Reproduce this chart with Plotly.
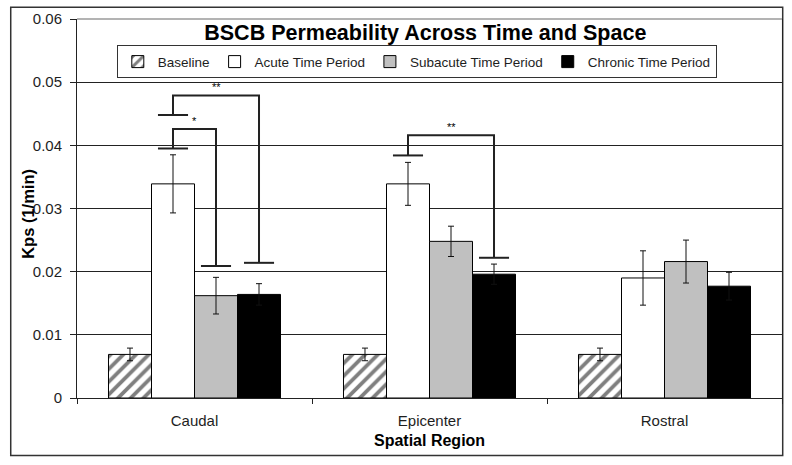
import plotly.graph_objects as go

# ---------------- data ----------------
regions = ["Caudal", "Epicenter", "Rostral"]
series_names = ["Baseline", "Acute Time Period", "Subacute Time Period", "Chronic Time Period"]
baseline = [0.0069, 0.0069, 0.0069]
baseline_err = [0.0010, 0.0010, 0.0010]
acute = [0.0339, 0.0339, 0.0190]
acute_err = [0.0046, 0.0034, 0.0043]
subacute = [0.0162, 0.0248, 0.0216]
subacute_err = [0.0029, 0.0024, 0.0034]
chronic = [0.0164, 0.0196, 0.0177]
chronic_err = [0.0017, 0.0016, 0.0022]

# significance brackets
bracket_region = [0, 0, 1]          # index into regions
bracket_from = [1, 1, 1]            # series index (left end)
bracket_to = [2, 3, 3]              # series index (right end)
bracket_top = [0.0426, 0.0479, 0.0416]
bracket_left_end = [0.0395, 0.0448, 0.0384]
bracket_right_end = [0.0209, 0.0214, 0.0222]
bracket_label = ["*", "**", "**"]

y_ticks = [0, 0.01, 0.02, 0.03, 0.04, 0.05, 0.06]
y_ticktext = ["0", "0.01", "0.02", "0.03", "0.04", "0.05", "0.06"]
x_title = "Spatial Region"
y_title = "Kps (1/min)"
chart_title = "BSCB Permeability Across Time and Space"

# ---------------- styling ----------------
FONT = "Arial, Liberation Sans, sans-serif"
TXT = "#1e1e1e"
BARGAP = 0.268
values = [baseline, acute, subacute, chronic]
errors = [baseline_err, acute_err, subacute_err, chronic_err]
fills = ["white", "white", "#c0c0c0", "black"]

fig = go.Figure()
for i, name in enumerate(series_names):
    marker = dict(color=fills[i], line=dict(color="black", width=1))
    if i == 0:
        marker["pattern"] = dict(shape="/", fgcolor="black", bgcolor="white",
                                 size=9, solidity=0.42, fillmode="overlay")
    fig.add_trace(go.Bar(
        name=name, x=regions, y=values[i], marker=marker,
        error_y=dict(type="data", array=errors[i], visible=True,
                     color="#111", thickness=1, width=3),
    ))

# brackets drawn in data coordinates derived from bar layout
w = (1 - BARGAP) / len(series_names)
cap_half = 0.064
def bar_center(region_idx, series_idx):
    return region_idx + (series_idx - (len(series_names) - 1) / 2) * w

shapes = []
annotations = []
line_style = dict(color="#222", width=2)
for k in range(len(bracket_label)):
    xl = bar_center(bracket_region[k], bracket_from[k])
    xr = bar_center(bracket_region[k], bracket_to[k])
    top = bracket_top[k]
    yl = bracket_left_end[k]
    yr = bracket_right_end[k]
    shapes.append(dict(type="path", xref="x", yref="y",
                       path=f"M {xl},{yl} L {xl},{top} L {xr},{top} L {xr},{yr}",
                       line=line_style))
    shapes.append(dict(type="line", xref="x", yref="y", x0=xl - cap_half, x1=xl + cap_half,
                       y0=yl, y1=yl, line=line_style))
    shapes.append(dict(type="line", xref="x", yref="y", x0=xr - cap_half, x1=xr + cap_half,
                       y0=yr, y1=yr, line=line_style))
    annotations.append(dict(x=(xl + xr) / 2, y=top, xref="x", yref="y",
                            text=bracket_label[k], showarrow=False, yanchor="bottom",
                            font=dict(family=FONT, size=11, color="black")))

# axis titles
annotations.append(dict(text=f"<b>{x_title}</b>", xref="paper", yref="paper",
                        x=0.5, y=-0.1126, xanchor="center", yanchor="middle",
                        showarrow=False, font=dict(family=FONT, size=16, color="black")))
annotations.append(dict(text=f"<b>{y_title}</b>", xref="paper", yref="paper",
                        x=-0.0695, y=0.486, xanchor="center", yanchor="middle",
                        textangle=-90, showarrow=False,
                        font=dict(family=FONT, size=16.5, color="black")))

# outer chart border and grey top frame line
shapes.append(dict(type="rect", xref="paper", yref="paper", x0=-0.094, x1=1.001,
                   y0=-0.152, y1=1.031, line=dict(color="#333", width=1.5), layer="below"))
shapes.append(dict(type="line", xref="paper", yref="paper", x0=0, x1=1, y0=1, y1=1,
                   line=dict(color="#9a9a9a", width=1.5)))

fig.update_layout(
    width=792, height=465,
    margin=dict(l=77, r=10, t=19, b=67, autoexpand=False),
    paper_bgcolor="white", plot_bgcolor="white",
    barmode="group", bargap=BARGAP, bargroupgap=0,
    font=dict(family=FONT, color=TXT),
    title=dict(text=f"<b>{chart_title}</b>",
               x=0.537, xanchor="center", y=0.931, yanchor="middle",
               yref="container", font=dict(family=FONT, size=21.5, color="black")),
    legend=dict(orientation="h", x=0.482, xanchor="center", y=0.887, yanchor="middle",
                bgcolor="white", bordercolor="#333", borderwidth=1,
                font=dict(family=FONT, size=13.5, color=TXT),
                itemwidth=30, traceorder="normal"),
    shapes=shapes, annotations=annotations,
    showlegend=True,
)
fig.update_xaxes(
    type="category", tickson="boundaries", ticks="outside", ticklen=5,
    tickcolor="#222", showline=True, linecolor="#222", linewidth=1,
    showgrid=False, tickfont=dict(family=FONT, size=15, color=TXT),
    ticklabelstandoff=9, automargin=False,
)
fig.update_yaxes(
    range=[0, 0.06], tickvals=y_ticks, ticktext=y_ticktext,
    ticks="outside", ticklen=6, tickcolor="#222",
    showline=True, linecolor="#222", linewidth=1, mirror=True,
    showgrid=True, gridcolor="#222", gridwidth=1, zeroline=False,
    tickfont=dict(family=FONT, size=15, color=TXT), ticklabelstandoff=5,
    automargin=False,
)

fig.write_html("out.html", config={"displayModeBar": False},
               post_script="document.body.style.margin='0';")
